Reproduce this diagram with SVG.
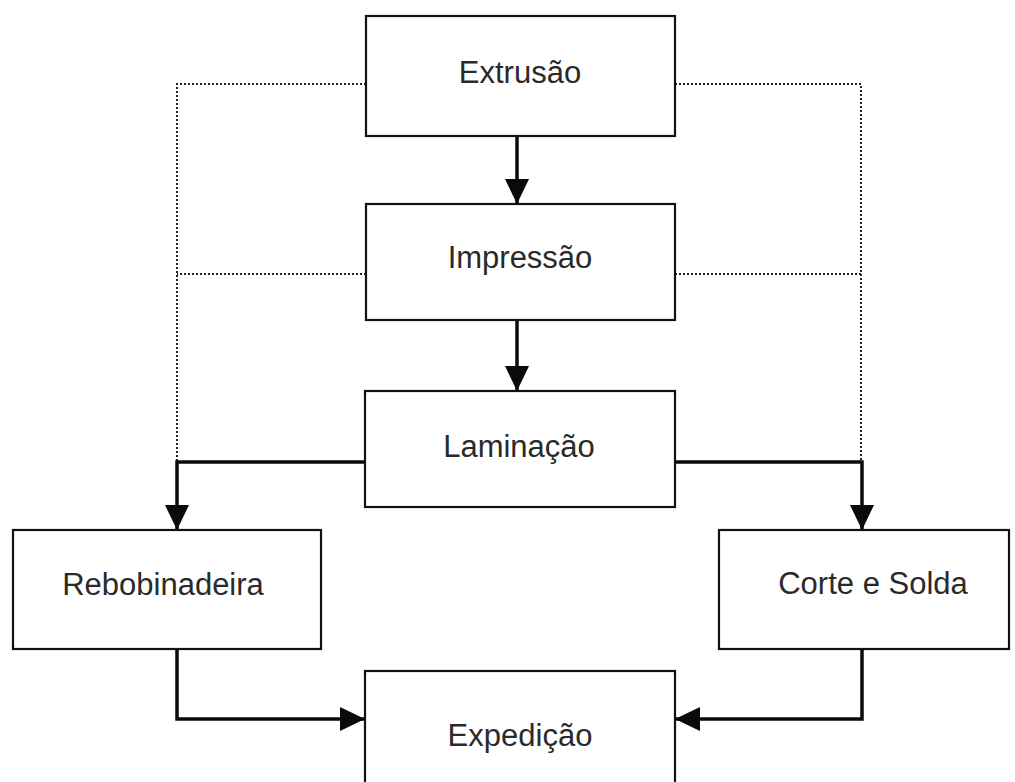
<svg xmlns="http://www.w3.org/2000/svg" width="1015" height="782" viewBox="0 0 1015 782">
  <style>
    .box { fill: #ffffff; stroke: #111111; stroke-width: 2.2; }
    .label { font-family: "Liberation Sans", Arial, sans-serif; font-size: 31px; fill: #2a2a2a; text-anchor: middle; }
    .flow { fill: none; stroke: #0a0a0a; stroke-width: 3.5; }
    .dotted { fill: none; stroke: #222222; stroke-width: 2; stroke-dasharray: 2 2; }
  </style>
  <defs>
    <marker id="arrow" viewBox="0 0 25 24" refX="25" refY="12" markerWidth="25" markerHeight="24" markerUnits="userSpaceOnUse" orient="auto">
      <path d="M0,0 L25,12 L0,24 Z" fill="#0a0a0a"/>
    </marker>
  </defs>
  <rect width="1015" height="782" fill="#ffffff"/>

  <g id="connectors">
    <!-- dotted side links -->
    <path class="dotted" d="M366,84 H177 V462"/>
    <path class="dotted" d="M366,274 H177"/>
    <path class="dotted" d="M675,84 H861 V462"/>
    <path class="dotted" d="M675,274 H861"/>
    <!-- main flow -->
    <path class="flow" d="M517,136 V204" marker-end="url(#arrow)"/>
    <path class="flow" d="M517,320 V391" marker-end="url(#arrow)"/>
    <path class="flow" d="M366,462 H177 V530" marker-end="url(#arrow)"/>
    <path class="flow" d="M675,462 H862 V530" marker-end="url(#arrow)"/>
    <path class="flow" d="M177,649 V719 H365" marker-end="url(#arrow)"/>
    <path class="flow" d="M862,649 V719 H675" marker-end="url(#arrow)"/>
  </g>

  <g id="extrusao">
    <rect class="box" x="366" y="16" width="309" height="120"/>
    <text class="label" x="520" y="83">Extrusão</text>
  </g>
  <g id="impressao">
    <rect class="box" x="366" y="204" width="309" height="116"/>
    <text class="label" x="520" y="268">Impressão</text>
  </g>
  <g id="laminacao">
    <rect class="box" x="365" y="391" width="310" height="116"/>
    <text class="label" x="519" y="457">Laminação</text>
  </g>
  <g id="rebobinadeira">
    <rect class="box" x="13" y="530" width="308" height="119"/>
    <text class="label" x="163" y="595">Rebobinadeira</text>
  </g>
  <g id="corte-solda">
    <rect class="box" x="719" y="530" width="290" height="119"/>
    <text class="label" x="873" y="594">Corte e Solda</text>
  </g>
  <g id="expedicao">
    <rect class="box" x="365" y="671" width="310" height="130"/>
    <text class="label" x="520" y="746">Expedição</text>
  </g>
</svg>
